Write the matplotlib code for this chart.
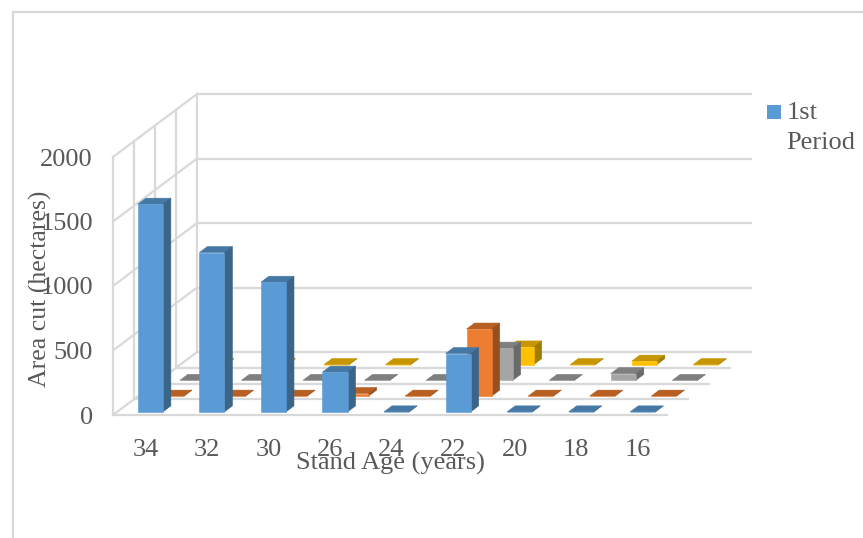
"""Area cut by stand age, drawn as a 3-D style column chart."""
import matplotlib.pyplot as plt
from matplotlib.patches import Polygon, Rectangle

plt.rcParams["font.family"] = ["Liberation Serif", "DejaVu Serif"]

stand_ages = ["34", "32", "30", "26", "24", "22", "20", "18", "16"]
area_ticks = [0, 500, 1000, 1500, 2000]

period_1 = [1610, 1235, 1005, 308, 0, 452, 0, 0, 0]
period_2 = [0, 0, 0, 20, 0, 520, 0, 0, 0]
period_3 = [0, 0, 0, 0, 0, 250, 0, 52, 0]
period_4 = [0, 0, 0, 0, 0, 137, 0, 27, 0]

TEXT = "#595959"
GRID = "#D9D9D9"

# front, top and side shades per series, front row first
SHADES = [
    ("#5B9BD5", "#4678A6", "#3A6488"),
    ("#ED7D31", "#B85F24", "#96501F"),
    ("#A5A5A5", "#7F7F7F", "#6A6A6A"),
    ("#FFC000", "#C69500", "#A07C00"),
]

# oblique projection: one step back in depth, in category and value units
DEPTH_X = 21 / 61.5
DEPTH_Y = 15.75 / 0.129
BAR_LEFT = 0.335
BAR_WIDTH = 0.407
BAR_NEAR = 0.2
BAR_FAR = 0.58


def project(x, depth, value):
    """Move a point on the front plane back along the depth axis."""
    return (x + depth * DEPTH_X, value + depth * DEPTH_Y)


def draw_walls(ax, rows):
    """Draw the gridded back wall, side wall and floor lines."""
    n = len(stand_ages)
    style = {"color": GRID, "lw": 1.6, "clip_on": False, "zorder": 1}
    for tick in area_ticks[1:]:
        xs, ys = zip(project(0, 0, tick), project(0, rows, tick))
        ax.plot(xs, ys, **style)
        xs, ys = zip(project(0, rows, tick), project(n, rows, tick))
        ax.plot(xs, ys, **style)
    for depth in range(rows + 1):
        xs, ys = zip(project(0, depth, 0), project(0, depth, area_ticks[-1]))
        ax.plot(xs, ys, **style)
        xs, ys = zip(project(0, depth, 0), project(n, depth, 0))
        ax.plot(xs, ys, **style)
    xs, ys = zip(project(0, 0, 0), project(0, rows, 0))
    ax.plot(xs, ys, **style)


def draw_bar(ax, i, row, value, shades):
    """Draw one column as front, top and side faces."""
    front, top, side = shades
    x0 = i + BAR_LEFT
    x1 = x0 + BAR_WIDTH
    near = row + BAR_NEAR
    far = row + BAR_FAR
    faces = [
        (top, [(x0, near, value), (x1, near, value), (x1, far, value), (x0, far, value)]),
        (side, [(x1, near, 0), (x1, far, 0), (x1, far, value), (x1, near, value)]),
        (front, [(x0, near, 0), (x1, near, 0), (x1, near, value), (x0, near, value)]),
    ]
    for color, corners in faces:
        ax.add_patch(
            Polygon(
                [project(x, d, v) for x, d, v in corners],
                closed=True,
                facecolor=color,
                edgecolor=color,
                lw=0.4,
                clip_on=False,
                zorder=3,
            )
        )


def main():
    """Do Things."""
    fig = plt.figure(figsize=(8.63, 5.38), dpi=100)
    ax = fig.add_axes([113 / 863, 123 / 538, 554 / 863, 258 / 538])
    ax.set_xlim(0, len(stand_ages))
    ax.set_ylim(0, area_ticks[-1])
    for spine in ax.spines.values():
        spine.set_visible(False)

    series = [period_1, period_2, period_3, period_4]
    draw_walls(ax, len(series))
    # paint back row first so the front rows cover it
    for row in reversed(range(len(series))):
        for i, value in enumerate(series[row]):
            draw_bar(ax, i, row, value, SHADES[row])

    ax.set_xticks([i + 0.525 for i in range(len(stand_ages))])
    ax.set_xticklabels(stand_ages)
    ax.set_yticks(area_ticks)
    ax.tick_params(axis="both", length=0, labelsize=19, labelcolor=TEXT)
    ax.tick_params(axis="x", pad=17.5)
    ax.tick_params(axis="y", pad=14.5)
    ax.set_xlabel("Stand Age (years)", fontsize=19, color=TEXT)
    ax.xaxis.set_label_coords(277 / 554, -37 / 258)
    ax.set_ylabel("Area cut (hectares)", fontsize=18.5, color=TEXT)
    ax.yaxis.set_label_coords(-61 / 554, 126 / 258)

    # chart frame runs off the right and bottom edges
    fig.add_artist(
        Rectangle(
            (13 / 863, -0.1),
            1.1,
            (526 / 538) + 0.1,
            transform=fig.transFigure,
            facecolor="none",
            edgecolor=GRID,
            lw=1.6,
        )
    )

    # legend entry
    fig.add_artist(
        Rectangle(
            (767 / 863, 1 - 119 / 538),
            14 / 863,
            14 / 538,
            transform=fig.transFigure,
            facecolor=SHADES[0][0],
            edgecolor="none",
        )
    )
    fig.text(787 / 863, 1 - 113 / 538, "1st", fontsize=19, color=TEXT, va="center")
    fig.text(786 / 863, 1 - 143 / 538, "Period", fontsize=19, color=TEXT, va="center")

    fig.savefig("out.png", dpi=100)


if __name__ == "__main__":
    main()
